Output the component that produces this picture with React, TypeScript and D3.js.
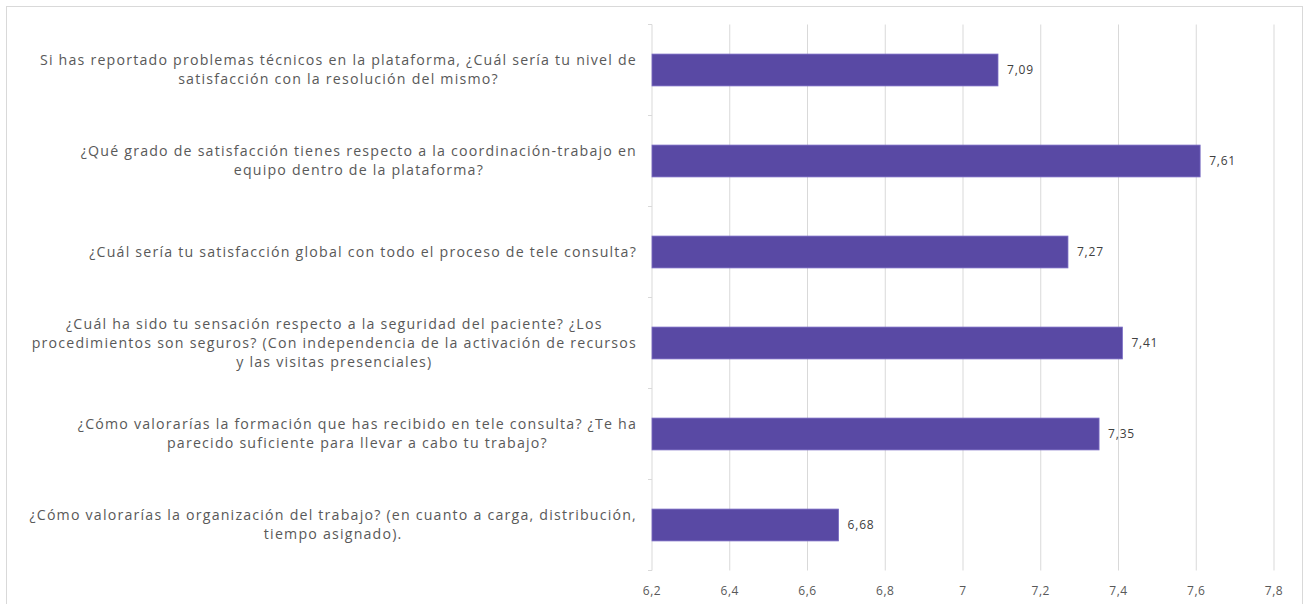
import React from "react";
import * as d3 from "d3";

const categories: string[][] = [
  ["Si has reportado problemas técnicos en la plataforma, ¿Cuál sería tu nivel de", "satisfacción con la resolución del mismo?"],
  ["¿Qué grado de satisfacción tienes respecto a la coordinación-trabajo en", "equipo dentro de la plataforma?"],
  ["¿Cuál sería tu satisfacción global con todo el proceso de tele consulta?"],
  ["¿Cuál ha sido tu sensación respecto a la seguridad del paciente? ¿Los", "procedimientos son seguros? (Con independencia de la activación de recursos", "y las visitas presenciales)"],
  ["¿Cómo valorarías la formación que has recibido en tele consulta? ¿Te ha", "parecido suficiente para llevar a cabo tu trabajo?"],
  ["¿Cómo valorarías la organización del trabajo? (en cuanto a carga, distribución,", "tiempo asignado)."],
];
const values: number[] = [7.09, 7.61, 7.27, 7.41, 7.35, 6.68];
const ticks: number[] = [6.2, 6.4, 6.6, 6.8, 7, 7.2, 7.4, 7.6, 7.8];

const W = 1306;
const H = 604;
const left = 652;
const right = 1274;
const top = 24.5;
const bottom = 570.5;
const labelRight = 637;
const FONT = "'Open Sans', sans-serif";
const LABEL_SIZE = 14.2;
const LABEL_LS = 1.2;
const LINE_H = 19;

const fmt = (v: number) => String(v).replace(".", ",");

let ctx: CanvasRenderingContext2D | null = null;
function measure(text: string, font: string, ls: number): number {
  if (!ctx) {
    const c = document.createElement("canvas");
    ctx = c.getContext("2d");
  }
  if (!ctx) return text.length * 7.7;
  ctx.font = font;
  return ctx.measureText(text).width + ls * text.length;
}

export default function App() {
  const x = d3.scaleLinear().domain([6.2, 7.8]).range([left, right]);
  const idx = categories.map((_, i) => String(i));
  const y = d3.scaleBand<string>().domain(idx).range([top, bottom]).paddingInner(0.65).paddingOuter(0.325);
  const yb = d3.scaleBand<string>().domain(idx).range([top, bottom]);
  const grid = "#d9d9d9";
  return (
    <svg width={W} height={H} style={{ position: "absolute", left: 0, top: 0, background: "#fff" }}>
      <rect x={6.5} y={6.5} width={1296} height={620} fill="#fff" stroke="#d9d9d9" strokeWidth={1} />
      {ticks.map((t) => (
        <line key={t} x1={x(t)} x2={x(t)} y1={top} y2={bottom} stroke={grid} strokeWidth={1} />
      ))}
      {d3.range(categories.length + 1).map((i) => {
        const yy = top + i * yb.bandwidth();
        return <line key={i} x1={left - 4} x2={left} y1={yy} y2={yy} stroke={grid} strokeWidth={1} />;
      })}
      {values.map((v, i) => (
        <g key={i}>
          <rect
            x={x(6.2)}
            y={y(String(i))!}
            width={x(v) - x(6.2)}
            height={y.bandwidth()}
            fill="#5949A4"
            stroke="#7a6cc4"
            strokeWidth={0.8}
          />
          <text
            x={x(v) + 9}
            y={y(String(i))! + y.bandwidth() / 2}
            dy="0.35em"
            fontFamily={FONT}
            fontSize={12}
            letterSpacing={0.8}
            fill="#404040"
          >
            {fmt(v)}
          </text>
        </g>
      ))}
      {categories.map((lines, i) => {
        const font = `${LABEL_SIZE}px ${FONT}`;
        const maxW = Math.max(...lines.map((l) => measure(l, font, LABEL_LS)));
        const cx = labelRight - maxW / 2;
        const cy = yb(String(i))! + yb.bandwidth() / 2;
        const y0 = cy - ((lines.length - 1) * LINE_H) / 2;
        return (
          <text key={i} fontFamily={FONT} fontSize={LABEL_SIZE} letterSpacing={LABEL_LS} fill="#595959" textAnchor="middle">
            {lines.map((l, j) => (
              <tspan key={j} x={cx} y={y0 + j * LINE_H} dy="0.35em">
                {l}
              </tspan>
            ))}
          </text>
        );
      })}
      {ticks.map((t) => (
        <text key={t} x={x(t)} y={591} dy="0.35em" textAnchor="middle" fontFamily={FONT} fontSize={12} letterSpacing={0.5} fill="#595959">
          {fmt(t)}
        </text>
      ))}
    </svg>
  );
}
